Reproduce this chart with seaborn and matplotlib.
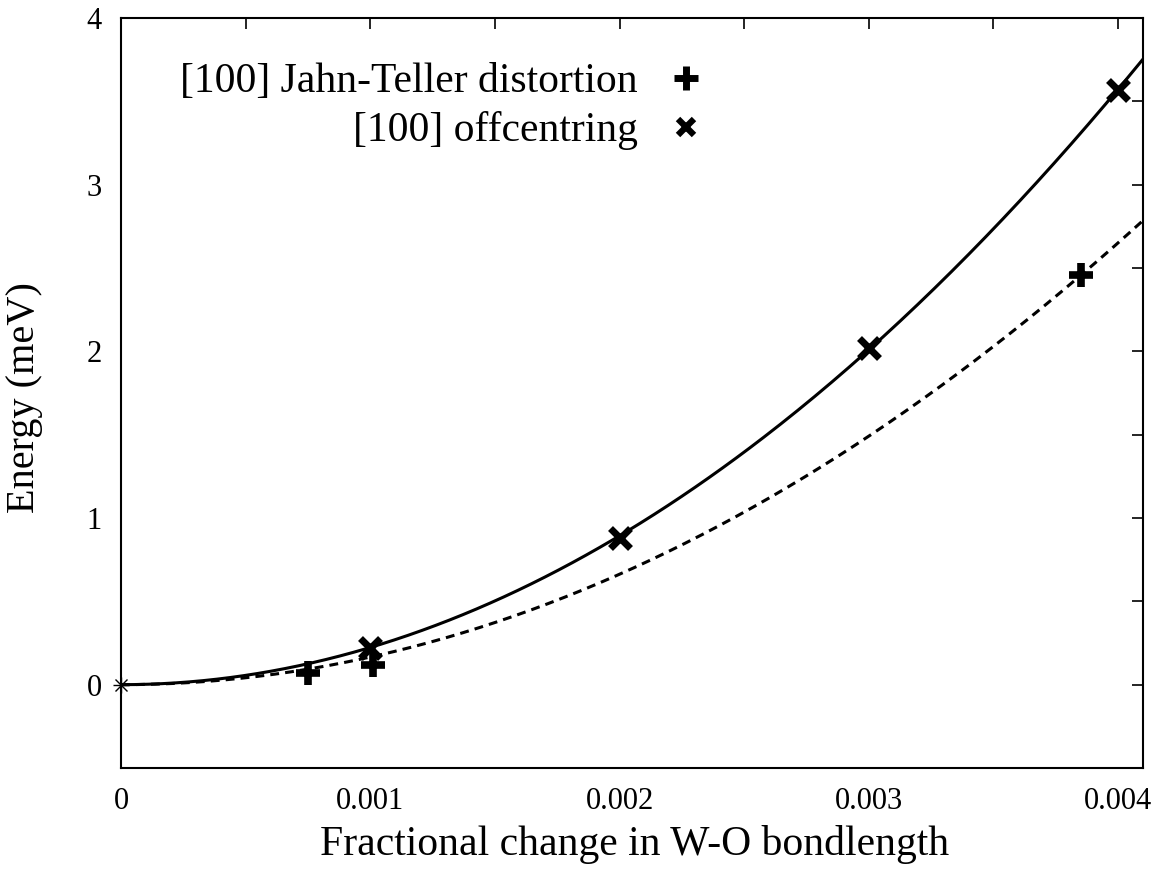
import numpy as np
import pandas as pd
import matplotlib
matplotlib.use("Agg")
import matplotlib.pyplot as plt
import seaborn as sns
from matplotlib.ticker import MultipleLocator, FixedLocator

# ---- data ----
jt_x = [0.00075, 0.00101, 0.00385]          # [100] Jahn-Teller distortion
jt_y = [0.07, 0.12, 2.46]
off_x = [0.001, 0.002, 0.003, 0.004]        # [100] offcentring
off_y = [0.22, 0.88, 2.02, 3.57]
origin_x = [0.0]
origin_y = [0.0]
x_ticks = [0, 0.001, 0.002, 0.003, 0.004]
x_tick_labels = ["0", "0.001", "0.002", "0.003", "0.004"]
y_ticks = [0, 1, 2, 3, 4]
y_tick_labels = ["0", "1", "2", "3", "4"]
label_jt = "[100] Jahn-Teller distortion"
label_off = "[100] offcentring"

sns.set_theme(style="white")
plt.rcParams["font.family"] = ["Liberation Serif", "DejaVu Serif"]
plt.rcParams["text.color"] = "black"
plt.rcParams["axes.labelcolor"] = "black"
plt.rcParams["xtick.color"] = "black"
plt.rcParams["ytick.color"] = "black"

fig = plt.figure(figsize=(11.63, 8.69), dpi=100)
ax = fig.add_axes([121 / 1163, 1 - 768 / 869, (1143 - 121) / 1163, (768 - 18) / 869])


def quad_fit(xs, ys):
    xs = np.asarray(xs)
    ys = np.asarray(ys)
    return np.sum(xs ** 2 * ys) / np.sum(xs ** 4)


xgrid = np.linspace(0, 0.0041, 300)
a_off = quad_fit(off_x, off_y)
a_jt = quad_fit(jt_x, jt_y)
curves = pd.DataFrame({"x": xgrid, "off": a_off * xgrid ** 2, "jt": a_jt * xgrid ** 2})

sns.lineplot(data=curves, x="x", y="off", ax=ax, color="black", lw=2.2,
             legend=False)
sns.lineplot(data=curves, x="x", y="jt", ax=ax, color="black", lw=2.2,
             legend=False)
ax.lines[-1].set_dashes([2.9, 2.0])

df_jt = pd.DataFrame({"x": jt_x, "y": jt_y})
df_off = pd.DataFrame({"x": off_x, "y": off_y})
ax.plot(df_jt["x"], df_jt["y"], ls="none", marker="+", ms=17, mew=5.5,
        color="black", label=label_jt, zorder=5)
ax.plot(df_off["x"], df_off["y"], ls="none", marker="x", ms=14, mew=5,
        color="black", label=label_off, zorder=5)
ax.plot(origin_x, origin_y, ls="none", marker="+", ms=11, mew=1.0,
        color="black", clip_on=False, zorder=6)
ax.plot(origin_x, origin_y, ls="none", marker="x", ms=9, mew=1.0,
        color="black", clip_on=False, zorder=6)

ax.set_xlim(0, 0.0041)
ax.set_ylim(-0.5, 4)
ax.xaxis.set_major_locator(FixedLocator(x_ticks))
ax.set_xticklabels(x_tick_labels)
ax.xaxis.set_minor_locator(MultipleLocator(0.0005))
ax.yaxis.set_major_locator(FixedLocator(y_ticks))
ax.set_yticklabels(y_tick_labels)
ax.yaxis.set_minor_locator(MultipleLocator(0.5))
ax.tick_params(which="both", direction="in", top=True, right=True,
               length=8, width=1.2, colors="black", labelsize=22)
ax.tick_params(axis="x", which="both", pad=14)
ax.tick_params(axis="y", which="both", pad=14)
for s in ax.spines.values():
    s.set_color("black")
    s.set_linewidth(1.5)

ax.set_xlabel("Fractional change in W-O bondlength", fontsize=30)
ax.set_ylabel("Energy (meV)", fontsize=29)
ax.xaxis.set_label_coords((635 - 121) / 1022, -(845 - 768) / 750)
ax.yaxis.set_label_coords(-(121 - 25) / 1022, (768 - 398) / 750)
ax.xaxis.label.set_va("center")
ax.yaxis.label.set_va("center")

leg = ax.legend(loc="upper left", bbox_to_anchor=(0.058, 0.94), frameon=False,
                fontsize=30, markerfirst=False, handlelength=1.0,
                handletextpad=0.65, labelspacing=0.24, borderaxespad=0,
                borderpad=0)
for t in leg.get_texts():
    t.set_ha("right")
leg._legend_box.align = "right"
leg.legend_handles[1].set_markersize(11)
leg.legend_handles[1].set_markeredgewidth(4.5)
leg.legend_handles[0].set_markersize(17)
leg.legend_handles[0].set_markeredgewidth(5)

fig.savefig("out.png", dpi=100, facecolor="white")
